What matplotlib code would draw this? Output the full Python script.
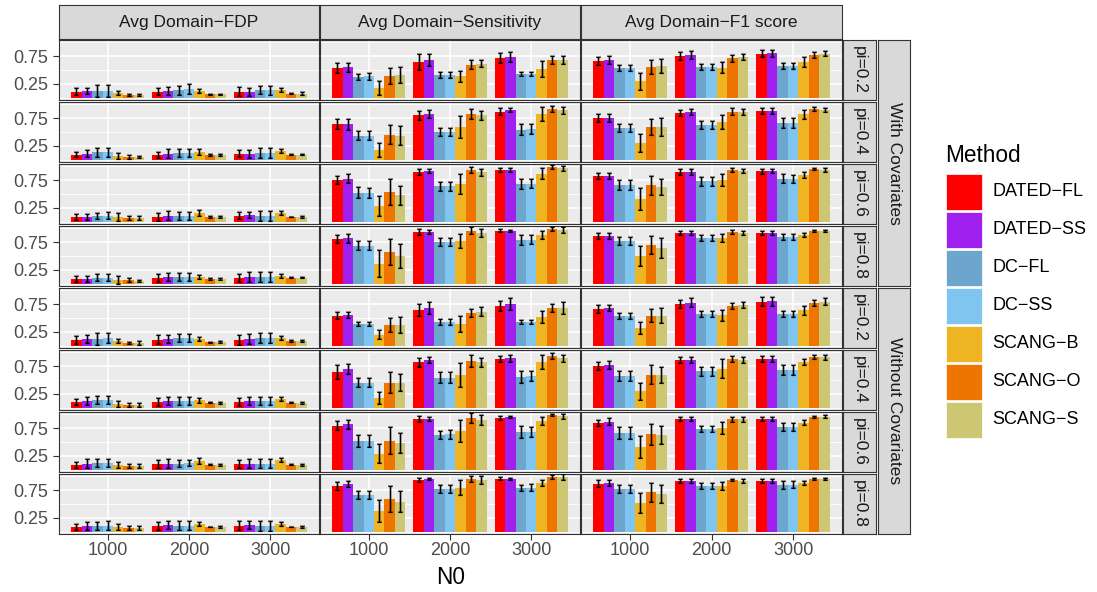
import matplotlib
matplotlib.use("Agg")
import matplotlib.pyplot as plt
from matplotlib.patches import Rectangle
import numpy as np

plt.rcParams['font.family'] = ['Liberation Sans', 'DejaVu Sans']

methods = ["DATED\u2212FL", "DATED\u2212SS", "DC\u2212FL", "DC\u2212SS", "SCANG\u2212B", "SCANG\u2212O", "SCANG\u2212S"]
colors = ["#FF0000", "#A020F0", "#6CA6CD", "#80C4F0", "#EEB422", "#EE7600", "#CDC673"]
n0_labels = ["1000", "2000", "3000"]
metric_titles = ["Avg Domain\u2212FDP", "Avg Domain\u2212Sensitivity", "Avg Domain\u2212F1 score"]
pi_labels = ["pi=0.2", "pi=0.4", "pi=0.6", "pi=0.8"] * 2
cov_labels = ["With Covariates", "Without Covariates"]

# rows: With pi .2 .4 .6 .8, Without pi .2 .4 .6 .8 ; each row: 3 N0 groups x 7 methods
fdp_mean = [
    [[0.11, 0.125, 0.125, 0.125, 0.09, 0.055, 0.055], [0.11, 0.125, 0.14, 0.16, 0.125, 0.07, 0.07], [0.11, 0.11, 0.14, 0.14, 0.14, 0.08, 0.08]],
    [[0.09, 0.11, 0.14, 0.14, 0.07, 0.055, 0.055], [0.09, 0.11, 0.125, 0.125, 0.14, 0.09, 0.09], [0.11, 0.11, 0.125, 0.125, 0.16, 0.095, 0.095]],
    [[0.09, 0.09, 0.11, 0.11, 0.09, 0.07, 0.07], [0.09, 0.11, 0.11, 0.11, 0.16, 0.09, 0.09], [0.11, 0.125, 0.11, 0.11, 0.16, 0.09, 0.09]],
    [[0.09, 0.09, 0.11, 0.11, 0.07, 0.07, 0.055], [0.11, 0.125, 0.125, 0.125, 0.125, 0.09, 0.09], [0.11, 0.125, 0.125, 0.125, 0.14, 0.11, 0.11]],
    [[0.11, 0.125, 0.125, 0.14, 0.09, 0.055, 0.055], [0.11, 0.125, 0.14, 0.14, 0.125, 0.07, 0.07], [0.11, 0.125, 0.14, 0.14, 0.14, 0.09, 0.09]],
    [[0.11, 0.125, 0.14, 0.14, 0.07, 0.055, 0.055], [0.11, 0.125, 0.125, 0.125, 0.14, 0.09, 0.09], [0.11, 0.125, 0.125, 0.125, 0.16, 0.09, 0.09]],
    [[0.09, 0.11, 0.125, 0.125, 0.09, 0.07, 0.07], [0.11, 0.11, 0.11, 0.125, 0.16, 0.09, 0.09], [0.11, 0.11, 0.11, 0.11, 0.18, 0.09, 0.09]],
    [[0.09, 0.11, 0.11, 0.11, 0.09, 0.07, 0.07], [0.11, 0.125, 0.11, 0.11, 0.14, 0.09, 0.09], [0.11, 0.125, 0.11, 0.11, 0.14, 0.09, 0.09]],
]
fdp_err = [
    [[0.065, 0.05, 0.11, 0.11, 0.04, 0.015, 0.02], [0.065, 0.075, 0.08, 0.09, 0.04, 0.008, 0.008], [0.08, 0.075, 0.075, 0.08, 0.035, 0.01, 0.018]],
    [[0.045, 0.06, 0.08, 0.08, 0.05, 0.03, 0.025], [0.06, 0.08, 0.08, 0.08, 0.055, 0.01, 0.01], [0.065, 0.07, 0.095, 0.095, 0.04, 0.01, 0.012]],
    [[0.05, 0.06, 0.055, 0.065, 0.07, 0.03, 0.03], [0.075, 0.08, 0.07, 0.07, 0.05, 0.01, 0.01], [0.06, 0.06, 0.085, 0.085, 0.035, 0.005, 0.01]],
    [[0.055, 0.06, 0.06, 0.065, 0.075, 0.03, 0.025], [0.07, 0.075, 0.07, 0.07, 0.04, 0.01, 0.012], [0.075, 0.085, 0.09, 0.085, 0.035, 0.008, 0.01]],
    [[0.07, 0.075, 0.11, 0.09, 0.04, 0.02, 0.03], [0.08, 0.065, 0.07, 0.07, 0.04, 0.008, 0.012], [0.09, 0.085, 0.085, 0.095, 0.04, 0.01, 0.012]],
    [[0.055, 0.08, 0.07, 0.07, 0.055, 0.03, 0.03], [0.07, 0.065, 0.08, 0.075, 0.045, 0.008, 0.012], [0.07, 0.075, 0.08, 0.08, 0.03, 0.008, 0.01]],
    [[0.05, 0.08, 0.07, 0.08, 0.055, 0.04, 0.035], [0.075, 0.08, 0.065, 0.06, 0.06, 0.008, 0.01], [0.075, 0.08, 0.08, 0.08, 0.04, 0.008, 0.01]],
    [[0.06, 0.075, 0.07, 0.08, 0.06, 0.04, 0.04], [0.075, 0.07, 0.08, 0.08, 0.04, 0.008, 0.012], [0.08, 0.08, 0.085, 0.085, 0.03, 0.008, 0.01]],
]
sens_mean = [
    [[0.54, 0.55, 0.37, 0.39, 0.18, 0.39, 0.41], [0.64, 0.68, 0.41, 0.41, 0.39, 0.59, 0.61], [0.71, 0.73, 0.43, 0.43, 0.52, 0.68, 0.68]],
    [[0.64, 0.64, 0.43, 0.43, 0.18, 0.45, 0.43], [0.80, 0.82, 0.50, 0.50, 0.59, 0.82, 0.80], [0.86, 0.89, 0.54, 0.55, 0.82, 0.91, 0.89]],
    [[0.75, 0.77, 0.52, 0.52, 0.29, 0.54, 0.48], [0.89, 0.91, 0.64, 0.64, 0.68, 0.93, 0.89], [0.93, 0.93, 0.68, 0.68, 0.86, 0.98, 0.96]],
    [[0.80, 0.82, 0.68, 0.68, 0.36, 0.57, 0.50], [0.93, 0.93, 0.75, 0.75, 0.77, 0.95, 0.91], [0.95, 0.95, 0.79, 0.79, 0.875, 0.98, 0.96]],
    [[0.54, 0.55, 0.39, 0.39, 0.20, 0.375, 0.375], [0.64, 0.68, 0.43, 0.43, 0.39, 0.59, 0.61], [0.71, 0.75, 0.43, 0.43, 0.52, 0.68, 0.68]],
    [[0.64, 0.70, 0.45, 0.45, 0.18, 0.45, 0.45], [0.82, 0.86, 0.54, 0.54, 0.59, 0.84, 0.82], [0.875, 0.89, 0.55, 0.57, 0.82, 0.93, 0.89]],
    [[0.79, 0.82, 0.52, 0.52, 0.29, 0.52, 0.48], [0.91, 0.91, 0.625, 0.64, 0.70, 0.93, 0.89], [0.93, 0.95, 0.68, 0.68, 0.875, 0.98, 0.96]],
    [[0.82, 0.86, 0.66, 0.66, 0.375, 0.59, 0.54], [0.93, 0.95, 0.77, 0.77, 0.79, 0.95, 0.93], [0.95, 0.95, 0.79, 0.79, 0.875, 0.98, 0.98]],
]
sens_err = [
    [[0.09, 0.08, 0.05, 0.06, 0.12, 0.14, 0.14], [0.14, 0.10, 0.06, 0.06, 0.10, 0.08, 0.06], [0.09, 0.09, 0.04, 0.04, 0.14, 0.07, 0.07]],
    [[0.09, 0.10, 0.08, 0.08, 0.12, 0.17, 0.17], [0.08, 0.07, 0.08, 0.08, 0.20, 0.09, 0.08], [0.06, 0.04, 0.10, 0.09, 0.12, 0.06, 0.06]],
    [[0.08, 0.08, 0.10, 0.09, 0.18, 0.23, 0.17], [0.05, 0.04, 0.08, 0.08, 0.18, 0.06, 0.065], [0.04, 0.03, 0.09, 0.08, 0.10, 0.03, 0.045]],
    [[0.075, 0.08, 0.08, 0.08, 0.24, 0.23, 0.21], [0.05, 0.03, 0.07, 0.07, 0.13, 0.06, 0.07], [0.025, 0.02, 0.09, 0.08, 0.07, 0.03, 0.05]],
    [[0.06, 0.05, 0.04, 0.04, 0.08, 0.12, 0.14], [0.11, 0.10, 0.05, 0.05, 0.14, 0.07, 0.08], [0.09, 0.10, 0.04, 0.04, 0.11, 0.075, 0.10]],
    [[0.12, 0.09, 0.08, 0.08, 0.11, 0.19, 0.155], [0.08, 0.05, 0.10, 0.10, 0.22, 0.10, 0.08], [0.06, 0.06, 0.11, 0.09, 0.12, 0.05, 0.065]],
    [[0.08, 0.08, 0.11, 0.11, 0.17, 0.24, 0.18], [0.055, 0.04, 0.08, 0.08, 0.20, 0.09, 0.09], [0.03, 0.02, 0.10, 0.09, 0.08, 0.02, 0.045]],
    [[0.07, 0.055, 0.07, 0.07, 0.20, 0.23, 0.19], [0.04, 0.02, 0.065, 0.065, 0.13, 0.05, 0.065], [0.03, 0.02, 0.055, 0.06, 0.05, 0.04, 0.05]],
]
f1_mean = [
    [[0.66, 0.68, 0.54, 0.54, 0.30, 0.55, 0.57], [0.75, 0.77, 0.55, 0.55, 0.54, 0.71, 0.73], [0.79, 0.80, 0.57, 0.57, 0.64, 0.77, 0.79]],
    [[0.75, 0.75, 0.57, 0.57, 0.30, 0.59, 0.59], [0.84, 0.86, 0.625, 0.625, 0.68, 0.86, 0.86], [0.875, 0.875, 0.66, 0.66, 0.82, 0.91, 0.89]],
    [[0.82, 0.82, 0.66, 0.66, 0.41, 0.66, 0.625], [0.89, 0.89, 0.73, 0.73, 0.75, 0.93, 0.91], [0.91, 0.91, 0.77, 0.77, 0.84, 0.95, 0.93]],
    [[0.86, 0.86, 0.77, 0.77, 0.50, 0.70, 0.64], [0.91, 0.91, 0.82, 0.82, 0.82, 0.93, 0.91], [0.91, 0.91, 0.84, 0.84, 0.875, 0.95, 0.95]],
    [[0.66, 0.68, 0.54, 0.54, 0.32, 0.54, 0.54], [0.75, 0.77, 0.57, 0.57, 0.55, 0.71, 0.73], [0.79, 0.80, 0.57, 0.57, 0.64, 0.77, 0.79]],
    [[0.75, 0.77, 0.57, 0.57, 0.30, 0.59, 0.59], [0.86, 0.86, 0.66, 0.66, 0.70, 0.875, 0.86], [0.875, 0.875, 0.68, 0.68, 0.82, 0.91, 0.91]],
    [[0.84, 0.86, 0.66, 0.66, 0.41, 0.64, 0.625], [0.91, 0.91, 0.73, 0.73, 0.75, 0.91, 0.91], [0.91, 0.91, 0.77, 0.77, 0.84, 0.95, 0.95]],
    [[0.86, 0.875, 0.77, 0.77, 0.52, 0.71, 0.68], [0.91, 0.91, 0.82, 0.82, 0.82, 0.93, 0.91], [0.91, 0.91, 0.84, 0.84, 0.875, 0.95, 0.95]],
]
f1_err = [
    [[0.065, 0.065, 0.055, 0.055, 0.15, 0.13, 0.13], [0.065, 0.065, 0.055, 0.055, 0.095, 0.065, 0.05], [0.065, 0.06, 0.05, 0.05, 0.085, 0.05, 0.045]],
    [[0.07, 0.075, 0.075, 0.075, 0.16, 0.15, 0.155], [0.06, 0.055, 0.07, 0.07, 0.13, 0.065, 0.055], [0.06, 0.045, 0.085, 0.085, 0.08, 0.03, 0.035]],
    [[0.06, 0.06, 0.085, 0.085, 0.20, 0.17, 0.15], [0.05, 0.05, 0.08, 0.08, 0.10, 0.03, 0.035], [0.045, 0.04, 0.08, 0.07, 0.055, 0.02, 0.03]],
    [[0.05, 0.055, 0.065, 0.065, 0.175, 0.16, 0.18], [0.04, 0.04, 0.05, 0.05, 0.07, 0.03, 0.04], [0.035, 0.035, 0.06, 0.055, 0.04, 0.02, 0.02]],
    [[0.065, 0.06, 0.05, 0.05, 0.10, 0.12, 0.13], [0.08, 0.08, 0.055, 0.05, 0.10, 0.05, 0.055], [0.08, 0.08, 0.05, 0.05, 0.08, 0.05, 0.06]],
    [[0.07, 0.07, 0.09, 0.09, 0.15, 0.17, 0.14], [0.055, 0.05, 0.08, 0.08, 0.17, 0.055, 0.05], [0.055, 0.05, 0.085, 0.085, 0.06, 0.03, 0.045]],
    [[0.06, 0.06, 0.10, 0.10, 0.19, 0.185, 0.155], [0.04, 0.035, 0.055, 0.06, 0.11, 0.045, 0.045], [0.035, 0.035, 0.07, 0.07, 0.045, 0.015, 0.025]],
    [[0.06, 0.05, 0.065, 0.065, 0.18, 0.17, 0.155], [0.035, 0.035, 0.055, 0.055, 0.075, 0.025, 0.035], [0.035, 0.035, 0.065, 0.063, 0.04, 0.015, 0.02]],
]

means = [fdp_mean, sens_mean, f1_mean]
errs = [fdp_err, sens_err, f1_err]

W, H = 1097, 592
fig = plt.figure(figsize=(W / 100, H / 100), dpi=100)
fig.patch.set_facecolor("white")

def rect(x0, y0, x1, y1):
    return [x0 / W, 1 - y1 / H, (x1 - x0) / W, (y1 - y0) / H]

col_x = [(59, 319), (320, 580), (581, 842)]
row_y = [(40 + 62 * i, 100 + 62 * i) for i in range(8)]
border = "#333333"
txt_grey = "#4D4D4D"
strip_bg = "#D9D9D9"

def strip(x0, y0, x1, y1, label, rot=0, size=12.5):
    a = fig.add_axes(rect(x0, y0, x1, y1))
    a.set_facecolor(strip_bg)
    a.set_xticks([]); a.set_yticks([])
    for s in a.spines.values():
        s.set_color(border); s.set_linewidth(0.8)
    a.text(0.5, 0.5, label, ha="center", va="center", rotation=rot,
           fontsize=size, color="#1A1A1A", transform=a.transAxes)

nm = len(methods)
bw = 0.9 / nm
offs = (np.arange(nm) - (nm - 1) / 2) * bw
xpos = np.arange(1, 4)

for r in range(8):
    for c in range(3):
        ax = fig.add_axes(rect(col_x[c][0], row_y[r][0], col_x[c][1], row_y[r][1]))
        ax.set_facecolor("#EBEBEB")
        ax.set_xlim(0.4, 3.6)
        ax.set_ylim(-0.036, 1.036)
        for yv in [0.0, 0.5, 1.0]:
            ax.axhline(yv, color="white", lw=0.6, zorder=0)
        for yv in [0.25, 0.75]:
            ax.axhline(yv, color="white", lw=1.2, zorder=0)
        for xv in xpos:
            ax.axvline(xv, color="white", lw=1.2, zorder=0)
        m = np.array(means[c][r])
        e = np.array(errs[c][r])
        for k in range(nm):
            xs = xpos + offs[k]
            ax.bar(xs, m[:, k], width=bw, color=colors[k], zorder=2)
            ax.errorbar(xs, m[:, k], yerr=e[:, k], fmt="none", ecolor="#000000",
                        alpha=0.35, elinewidth=1.8, capsize=1.8, capthick=1.5, zorder=3)
            ax.errorbar(xs, m[:, k], yerr=e[:, k], fmt="none", ecolor="black",
                        elinewidth=0.8, capsize=1.5, capthick=0.8, zorder=4)
        for s in ax.spines.values():
            s.set_color(border); s.set_linewidth(0.8)
        ax.set_yticks([0.25, 0.75])
        ax.set_xticks(xpos)
        ax.tick_params(colors=border, length=4, width=0.8, labelcolor=txt_grey, labelsize=13)
        if c == 0:
            ax.set_yticklabels(["0.25", "0.75"])
        else:
            ax.tick_params(axis="y", length=0, labelleft=False)
        if r == 7:
            ax.set_xticklabels(n0_labels)
            ax.tick_params(axis="x", pad=2)
        else:
            ax.tick_params(axis="x", length=0, labelbottom=False)

for c in range(3):
    strip(col_x[c][0], 5, col_x[c][1], 39, metric_titles[c])
for r in range(8):
    strip(843, row_y[r][0], 876, row_y[r][1], pi_labels[r], rot=-90)
strip(878, 40, 910, 286, cov_labels[0], rot=-90)
strip(878, 288, 910, 534, cov_labels[1], rot=-90)

fig.text(450.5 / W, 1 - 578 / H, "N0", ha="center", va="center", fontsize=16.3, color="black")

# legend
lg = fig.add_axes(rect(935, 130, 1097, 450))
lg.set_xlim(935, 1097)
lg.set_ylim(450, 130)
lg.axis("off")
lg.text(945, 156, "Method", ha="left", va="center", fontsize=16.3, color="black")
for k, name in enumerate(methods):
    y0 = 174 + k * 38
    lg.add_patch(Rectangle((946, y0), 36, 36, facecolor=colors[k], edgecolor="white", lw=0.5))
    lg.text(992, y0 + 18, name, ha="left", va="center", fontsize=13, color="black")

fig.savefig("out.png", dpi=100)
